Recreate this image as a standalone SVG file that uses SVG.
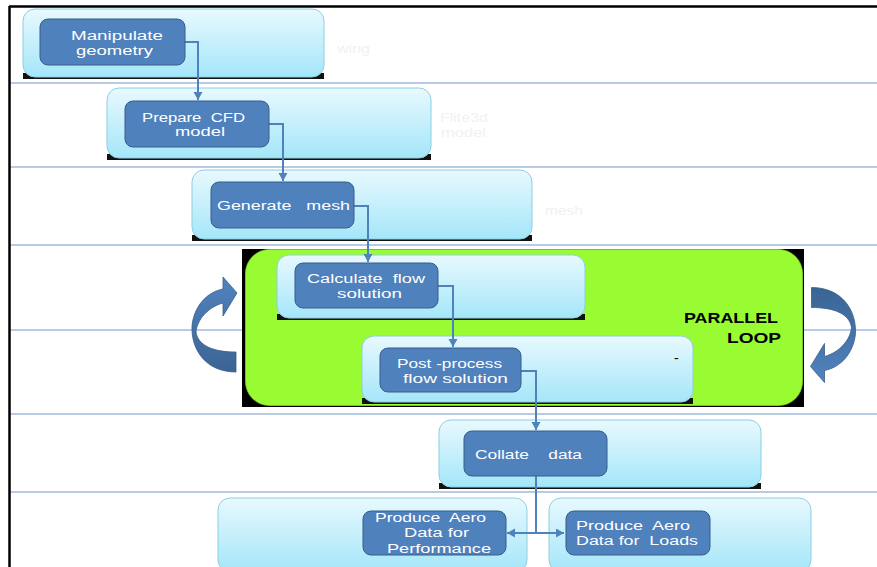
<svg xmlns="http://www.w3.org/2000/svg" width="877" height="567" viewBox="0 0 877 567">
  <defs>
    <linearGradient id="laneFill" x1="0" y1="0" x2="0" y2="1">
      <stop offset="0" stop-color="#e8f9fe"/>
      <stop offset="1" stop-color="#a4e6f9"/>
    </linearGradient>
    <linearGradient id="curlFill" x1="0" y1="0" x2="0" y2="1">
      <stop offset="0" stop-color="#5283bf"/>
      <stop offset="1" stop-color="#3a6494"/>
    </linearGradient>
    <marker id="tip" markerUnits="userSpaceOnUse" markerWidth="10" markerHeight="10" refX="8" refY="4.5" orient="auto-start-reverse">
      <path d="M0 0 L8 4.5 L0 9 Z" fill="#4f81bd"/>
    </marker>
    <!-- curved loop arrow, drawn for the left side; the right one is the same shape turned 180 degrees -->
    <path id="curl" d="M236 372 C206 372 191 350 192 326 C194 306 207 292 223 289 L223 277 L237 293 L223 316 L223 303 C208 307 197 320 196 332 C198 346 214 352 236 352 Z"/>
  </defs>
  <style>
    .sep { stroke: #b8cbe4; stroke-width: 2; fill: none; }
    .frame { stroke: #000; stroke-width: 2.5; fill: none; }
    .lane { fill: url(#laneFill); stroke: #8ccfe0; stroke-width: 1; }
    .laneShadow { fill: #111; }
    .node { fill: #4f81bd; stroke: #385d8a; stroke-width: 1; }
    .label { font-family: "Liberation Sans", Arial, sans-serif; font-size: 12px; fill: #ffffff; white-space: pre; }
    .faint { font-family: "Liberation Sans", Arial, sans-serif; font-size: 12.5px; fill: #f1f1f1; }
    .loopText { font-family: "Liberation Sans", Arial, sans-serif; font-size: 15px; font-weight: bold; fill: #000; }
    .conn { stroke: #4f81bd; stroke-width: 2; fill: none; }
    .curl { fill: url(#curlFill); stroke: #385d8a; stroke-width: 0.8; }
  </style>

  <rect width="877" height="567" fill="#ffffff"/>

  <!-- swimlane separators and frame -->
  <g id="lanes-grid">
    <line class="sep" x1="10" y1="83" x2="877" y2="83"/>
    <line class="sep" x1="10" y1="167" x2="877" y2="167"/>
    <line class="sep" x1="10" y1="245" x2="877" y2="245"/>
    <line class="sep" x1="10" y1="330" x2="877" y2="330"/>
    <line class="sep" x1="10" y1="414" x2="877" y2="414"/>
    <line class="sep" x1="10" y1="492" x2="877" y2="492"/>
    <line class="frame" x1="9" y1="6.5" x2="877" y2="6.5"/>
    <line class="frame" x1="9.5" y1="6" x2="9.5" y2="567"/>
  </g>

  <!-- faint side notes -->
  <g id="notes">
    <text class="faint" x="337" y="53" textLength="33" lengthAdjust="spacingAndGlyphs">wing</text>
    <text class="faint" x="440" y="122" textLength="48" lengthAdjust="spacingAndGlyphs">Flite3d</text>
    <text class="faint" x="441" y="137" textLength="45" lengthAdjust="spacingAndGlyphs">model</text>
    <text class="faint" x="545" y="215" textLength="38" lengthAdjust="spacingAndGlyphs">mesh</text>
  </g>

  <!-- parallel loop block -->
  <g id="parallel-loop">
    <rect x="242" y="249" width="562" height="158" fill="#000"/>
    <rect x="245.5" y="249.5" width="557" height="156" rx="24" fill="#99fc33" stroke="#7fd42a" stroke-width="0.8"/>
    <text class="loopText" x="684" y="323" textLength="94" lengthAdjust="spacingAndGlyphs">PARALLEL</text>
    <text class="loopText" x="727" y="343" textLength="54" lengthAdjust="spacingAndGlyphs">LOOP</text>
    <use href="#curl" class="curl"/>
    <use href="#curl" class="curl" transform="translate(1047.5 659.5) rotate(180)"/>
  </g>

  <!-- swimlane boxes -->
  <g id="lane-geometry">
    <rect class="laneShadow" x="23" y="73" width="301" height="6"/>
    <rect class="lane" x="23" y="9" width="301" height="68" rx="12"/>
  </g>
  <g id="lane-cfd">
    <rect class="laneShadow" x="107" y="154" width="324" height="6"/>
    <rect class="lane" x="107" y="88" width="324" height="70" rx="12"/>
  </g>
  <g id="lane-mesh">
    <rect class="laneShadow" x="192" y="235" width="340" height="6"/>
    <rect class="lane" x="192" y="170" width="340" height="69" rx="12"/>
  </g>
  <g id="lane-solve">
    <rect class="laneShadow" x="277" y="314" width="308" height="6"/>
    <rect class="lane" x="277" y="255" width="308" height="63" rx="12"/>
  </g>
  <g id="lane-post">
    <rect class="laneShadow" x="362" y="398" width="331" height="6"/>
    <rect class="lane" x="362" y="336" width="331" height="66" rx="12"/>
    <text x="674" y="363" font-family="Liberation Sans, Arial, sans-serif" font-size="14" fill="#000">-</text>
  </g>
  <g id="lane-collate">
    <rect class="laneShadow" x="439" y="483" width="322" height="6"/>
    <rect class="lane" x="439" y="420" width="322" height="67" rx="12"/>
  </g>
  <g id="lane-performance">
    <rect class="lane" x="218" y="498" width="309" height="74" rx="12"/>
  </g>
  <g id="lane-loads">
    <rect class="lane" x="549" y="498" width="262" height="74" rx="12"/>
  </g>

  <!-- connectors -->
  <g id="connectors">
    <path class="conn" d="M185 42 H198 V100" marker-end="url(#tip)"/>
    <path class="conn" d="M269 124 H283 V181" marker-end="url(#tip)"/>
    <path class="conn" d="M354 206 H368 V262" marker-end="url(#tip)"/>
    <path class="conn" d="M438 286 H453 V347" marker-end="url(#tip)"/>
    <path class="conn" d="M521 371 H536 V430" marker-end="url(#tip)"/>
    <path class="conn" d="M536 476 V533"/>
    <path class="conn" d="M507 533 H564" marker-start="url(#tip)" marker-end="url(#tip)"/>
  </g>

  <!-- process steps -->
  <g id="manipulate-geometry">
    <rect class="node" x="40" y="19" width="145" height="46" rx="8"/>
    <text class="label" x="71" y="40" textLength="92" lengthAdjust="spacingAndGlyphs">Manipulate</text>
    <text class="label" x="76" y="54.5" textLength="77" lengthAdjust="spacingAndGlyphs">geometry</text>
  </g>
  <g id="prepare-cfd-model">
    <rect class="node" x="125" y="101" width="144" height="46" rx="8"/>
    <text class="label" x="142" y="121.5" textLength="103" lengthAdjust="spacingAndGlyphs">Prepare  CFD</text>
    <text class="label" x="175" y="136" textLength="50" lengthAdjust="spacingAndGlyphs">model</text>
  </g>
  <g id="generate-mesh">
    <rect class="node" x="211" y="182" width="143" height="46" rx="8"/>
    <text class="label" x="217" y="210" textLength="133" lengthAdjust="spacingAndGlyphs">Generate   mesh</text>
  </g>
  <g id="calculate-flow-solution">
    <rect class="node" x="295" y="263" width="143" height="45" rx="8"/>
    <text class="label" x="307" y="283" textLength="118" lengthAdjust="spacingAndGlyphs">Calculate  flow</text>
    <text class="label" x="337" y="298" textLength="65" lengthAdjust="spacingAndGlyphs">solution</text>
  </g>
  <g id="post-process-flow-solution">
    <rect class="node" x="380" y="348" width="141" height="44" rx="8"/>
    <text class="label" x="397" y="368" textLength="105" lengthAdjust="spacingAndGlyphs">Post -process</text>
    <text class="label" x="403" y="382.5" textLength="105" lengthAdjust="spacingAndGlyphs">flow solution</text>
  </g>
  <g id="collate-data">
    <rect class="node" x="464" y="431" width="143" height="45" rx="8"/>
    <text class="label" x="475" y="459" textLength="107" lengthAdjust="spacingAndGlyphs">Collate    data</text>
  </g>
  <g id="aero-data-performance">
    <rect class="node" x="363" y="511" width="143" height="44" rx="8"/>
    <text class="label" x="375" y="522" textLength="111" lengthAdjust="spacingAndGlyphs">Produce  Aero</text>
    <text class="label" x="404" y="537" textLength="65" lengthAdjust="spacingAndGlyphs">Data for</text>
    <text class="label" x="387" y="552.5" textLength="104" lengthAdjust="spacingAndGlyphs">Performance</text>
  </g>
  <g id="aero-data-loads">
    <rect class="node" x="566" y="511" width="144" height="44" rx="8"/>
    <text class="label" x="576" y="530" textLength="114" lengthAdjust="spacingAndGlyphs">Produce  Aero</text>
    <text class="label" x="576" y="545" textLength="122" lengthAdjust="spacingAndGlyphs">Data for  Loads</text>
  </g>
</svg>
